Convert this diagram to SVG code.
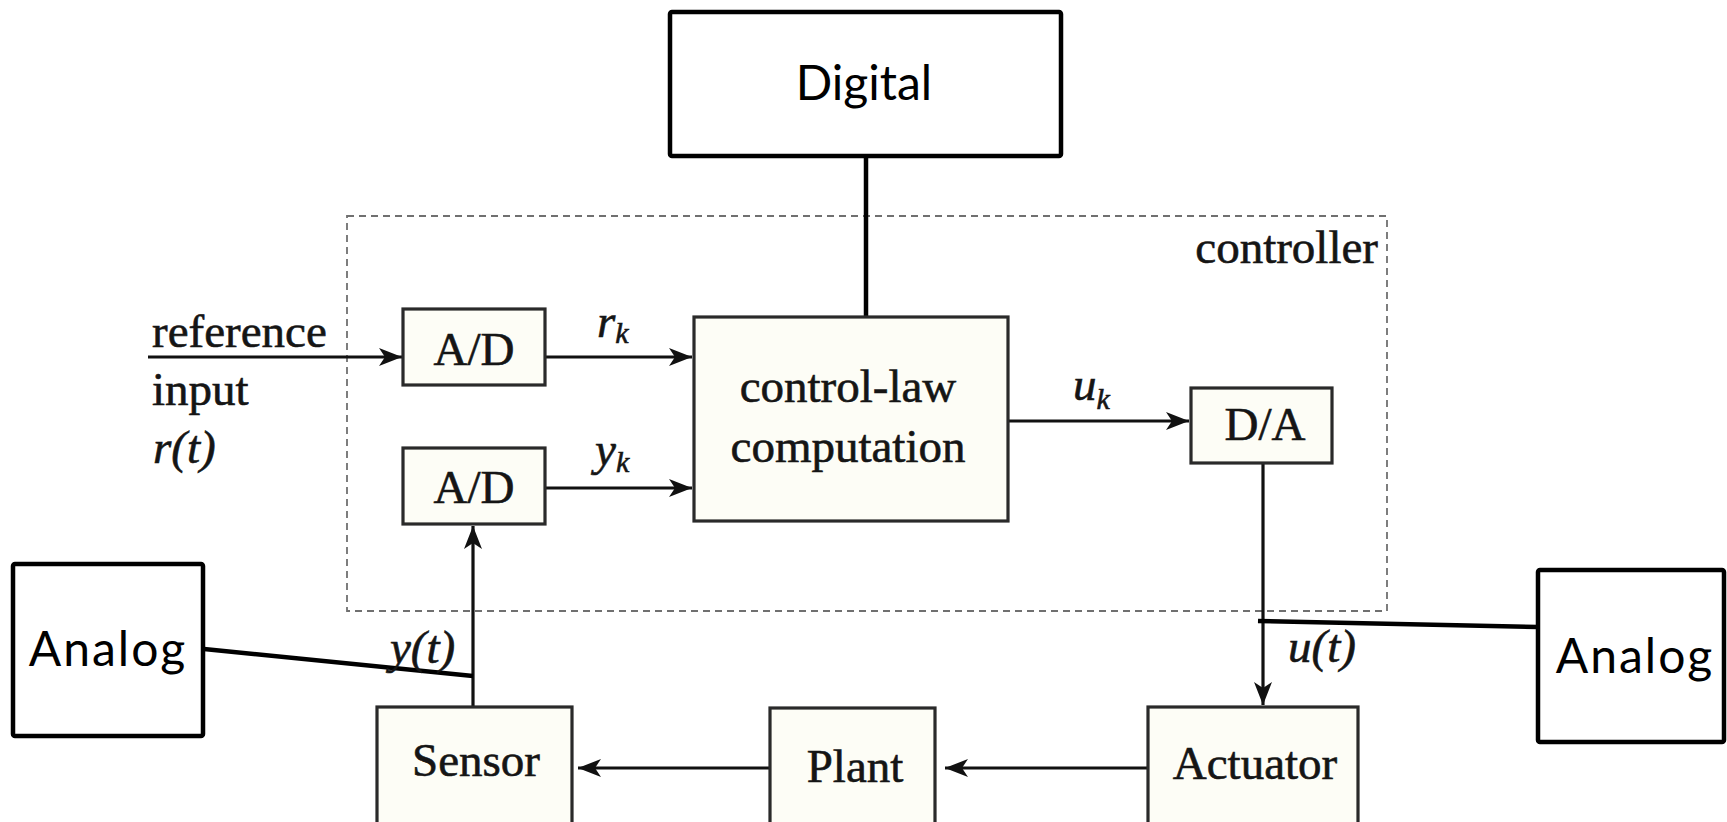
<svg xmlns="http://www.w3.org/2000/svg" width="1727" height="822" viewBox="0 0 1727 822">
  <style>
    .blk { fill: #fdfdf6; stroke: #2a2a2a; stroke-width: 3.2; }
    .dom { fill: #ffffff; stroke: #000000; stroke-width: 4.5; }
    .serif { font-family: "Liberation Serif", "Times New Roman", serif; font-size: 47px; fill: #151515; stroke: #151515; stroke-width: 0.6; }
    .it { font-style: italic; }
    .sans { font-family: Lato, "Open Sans", sans-serif; font-size: 48px; fill: #000000; }
    .mid { text-anchor: middle; }
    .wire { fill: none; stroke: #111111; stroke-width: 3.2; }
    .link { fill: none; stroke: #000000; stroke-width: 4.5; }
    .frame { fill: none; stroke: #707070; stroke-width: 1.8; stroke-dasharray: 7 5; }
  </style>
  <defs>
    <marker id="arrow" markerUnits="userSpaceOnUse" markerWidth="24" markerHeight="20" refX="23" refY="10" orient="auto">
      <path d="M0,1 L23,10 L0,19 L6,10 z" fill="#111111"/>
    </marker>
  </defs>

  <rect width="1727" height="822" fill="#ffffff"/>

  <!-- controller boundary -->
  <g id="controller">
    <rect class="frame" x="347" y="216" width="1040" height="395"/>
    <text class="serif" x="1378" y="263" text-anchor="end">controller</text>
  </g>

  <!-- signal connectors -->
  <g id="connectors">
    <line class="wire" x1="148" y1="357" x2="402" y2="357" marker-end="url(#arrow)"/>
    <line class="wire" x1="545" y1="357" x2="692" y2="357" marker-end="url(#arrow)"/>
    <line class="wire" x1="545" y1="488" x2="692" y2="488" marker-end="url(#arrow)"/>
    <line class="wire" x1="1008" y1="421" x2="1189" y2="421" marker-end="url(#arrow)"/>
    <line class="wire" x1="1263" y1="463" x2="1263" y2="705" marker-end="url(#arrow)"/>
    <line class="wire" x1="1148" y1="768" x2="945" y2="768" marker-end="url(#arrow)"/>
    <line class="wire" x1="770" y1="768" x2="578" y2="768" marker-end="url(#arrow)"/>
    <line class="wire" x1="473" y1="707" x2="473" y2="526" marker-end="url(#arrow)"/>
    <!-- domain callout leaders -->
    <line class="link" x1="866" y1="156" x2="866" y2="317"/>
    <line class="link" x1="204" y1="649" x2="473" y2="676"/>
    <line class="link" x1="1258" y1="621" x2="1538" y2="627"/>
  </g>

  <!-- signal labels -->
  <g id="labels">
    <text class="serif" x="152" y="347">reference</text>
    <text class="serif" x="152" y="405">input</text>
    <text class="serif it" x="153" y="463">r(t)</text>
    <text class="serif it" x="597" y="337">r<tspan font-size="30" dy="6">k</tspan></text>
    <text class="serif it" x="595" y="465">y<tspan font-size="30" dy="7">k</tspan></text>
    <text class="serif it" x="1073" y="400">u<tspan font-size="30" dy="9">k</tspan></text>
    <text class="serif it" x="390" y="663">y(t)</text>
    <text class="serif it" x="1288" y="662">u(t)</text>
  </g>

  <g id="ad-ref">
    <rect class="blk" x="403" y="309" width="142" height="76"/>
    <text class="serif mid" x="474" y="365">A/D</text>
  </g>
  <g id="ad-meas">
    <rect class="blk" x="403" y="448" width="142" height="76"/>
    <text class="serif mid" x="474" y="503">A/D</text>
  </g>
  <g id="control-law">
    <rect class="blk" x="694" y="317" width="314" height="204"/>
    <text class="serif mid" x="848" y="402">control-law</text>
    <text class="serif mid" x="848" y="462">computation</text>
  </g>
  <g id="da">
    <rect class="blk" x="1191" y="388" width="141" height="75"/>
    <text class="serif mid" x="1265" y="440">D/A</text>
  </g>
  <g id="sensor">
    <rect class="blk" x="377" y="707" width="195" height="130"/>
    <text class="serif mid" x="476" y="776">Sensor</text>
  </g>
  <g id="plant">
    <rect class="blk" x="770" y="708" width="165" height="130"/>
    <text class="serif mid" x="855" y="782">Plant</text>
  </g>
  <g id="actuator">
    <rect class="blk" x="1148" y="707" width="210" height="130"/>
    <text class="serif mid" x="1255" y="779">Actuator</text>
  </g>

  <g id="digital">
    <rect class="dom" x="670" y="12" width="391" height="144" rx="2"/>
    <text class="sans mid" x="864" y="100">Digital</text>
  </g>
  <g id="analog-left">
    <rect class="dom" x="13" y="564" width="190" height="172" rx="2"/>
    <text class="sans mid" x="108" y="666" letter-spacing="2">Analog</text>
  </g>
  <g id="analog-right">
    <rect class="dom" x="1538" y="570" width="186" height="172" rx="2"/>
    <text class="sans mid" x="1635" y="673" letter-spacing="2">Analog</text>
  </g>
</svg>
